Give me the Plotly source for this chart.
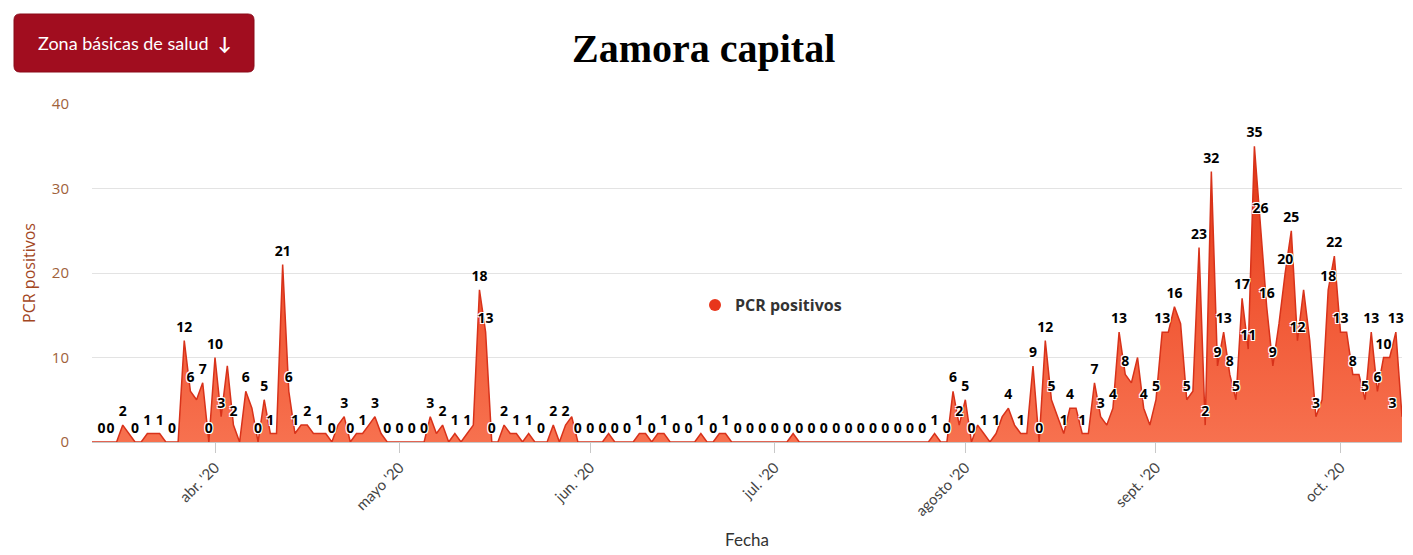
import plotly.graph_objects as go
import pandas as pd

# PCR positivos diarios, Zamora capital (12 mar - 11 oct 2020)
marzo = [0, 0, 0, 0, 0, 2, 1, 0, 0, 1, 1, 1, 0, 0, 0, 12, 6, 5, 7, 0]
abril = [10, 3, 9, 2, 0, 6, 4, 0, 5, 1, 1, 21, 6, 1, 2, 2, 1, 1, 1, 0,
         2, 3, 0, 1, 1, 2, 3, 1, 0, 0]
mayo = [0, 0, 0, 0, 0, 3, 1, 2, 0, 1, 0, 1, 2, 18, 13, 0, 0, 2, 1, 1,
        0, 1, 0, 0, 0, 2, 0, 2, 3, 0, 0]
junio = [0, 0, 0, 1, 0, 0, 0, 0, 1, 1, 0, 1, 1, 0, 0, 0, 0, 0, 1, 0,
         0, 1, 1, 0, 0, 0, 0, 0, 0, 0]
julio = [0, 0, 0, 1, 0, 0, 0, 0, 0, 0, 0, 0, 0, 0, 0, 0, 0, 0, 0, 0,
         0, 0, 0, 0, 0, 0, 1, 0, 0, 6, 2]
agosto = [5, 0, 2, 1, 0, 1, 3, 4, 2, 1, 1, 9, 0, 12, 5, 3, 1, 4, 4, 1,
          1, 7, 3, 2, 4, 13, 8, 7, 10, 4, 2]
septiembre = [5, 13, 13, 16, 14, 5, 6, 23, 2, 32, 9, 13, 8, 5, 17, 11, 35, 26, 16, 9,
              14, 20, 25, 12, 18, 12, 3, 5, 18, 22]
octubre = [13, 13, 8, 8, 5, 13, 6, 10, 10, 13, 3]

meses_ticks = ["2020-04-01", "2020-05-01", "2020-06-01", "2020-07-01",
               "2020-08-01", "2020-09-01", "2020-10-01"]
meses_texto = ["abr. '20", "mayo '20", "jun. '20", "jul. '20",
               "agosto '20", "sept. '20", "oct. '20"]

valores = marzo + abril + mayo + junio + julio + agosto + septiembre + octubre
fechas = pd.date_range("2020-03-12", periods=len(valores), freq="D")

# la pagina deja 8px de margen al cuerpo: se resta para cuadrar con la ventana
borde = 8
W, H = 1413 - borde, 555 - borde
izq, arriba = 92 - borde, 104 - borde
ancho, alto = 1310, 338
der, abajo = W - izq - ancho, H - arriba - alto

# ocultar etiquetas que se solapan (como hace highcharts), ajustando las de los bordes
px_dia = ancho / (len(valores) - 1)
px_unidad = alto / 40
puestas = []
etiquetas = []
posiciones = []
for i, v in enumerate(valores):
    s = str(v)
    w = 9.5 * len(s)
    cx = min(max(i * px_dia, w / 2), ancho - w / 2)
    cy = v * px_unidad
    libre = all(abs(cx - bx) >= (w + bw) / 2 or abs(cy - by) >= 20 for bx, by, bw in puestas)
    if libre:
        puestas.append((cx, cy, w))
        etiquetas.append(s)
    else:
        etiquetas.append("")
    posiciones.append("top right" if i == 0 else "top left" if i == len(valores) - 1 else "top center")


def px_a_paper(x, y):
    # x, y en pixeles de la ventana
    return (x - borde - izq) / ancho, (H - abajo - (y - borde)) / alto


fig = go.Figure()

fig.add_trace(go.Scatter(
    x=fechas, y=valores, mode="lines", name="PCR positivos",
    line=dict(color="#d8321a", width=1.5),
    fill="tozeroy",
    fillgradient=dict(type="vertical", start=0, stop=36,
                      colorscale=[[0, "#f7714f"], [0.5, "#f05532"], [1, "#de3414"]]),
    showlegend=False, hoverinfo="skip"))

fig.add_trace(go.Scatter(
    x=fechas, y=valores, mode="markers+text", text=etiquetas,
    textposition=posiciones,
    marker=dict(size=7, color="rgba(0,0,0,0)"),
    textfont=dict(family="Open Sans", size=14, color="black", weight="bold",
                  shadow="-1px -1px 0 #fff, 1px -1px 0 #fff, -1px 1px 0 #fff, 1px 1px 0 #fff"),
    cliponaxis=False, showlegend=False, hoverinfo="skip"))

# entrada de leyenda
fig.add_trace(go.Scatter(
    x=[None], y=[None], mode="markers", name="PCR positivos",
    marker=dict(size=15, color="#e8351b")))

# boton "Zona basicas de salud"
x0, y0 = px_a_paper(14, 72)
x1, y1 = px_a_paper(254, 14)
rx, ry = 6 / ancho, 6 / alto
camino = (f"M {x0+rx},{y0} L {x1-rx},{y0} Q {x1},{y0} {x1},{y0+ry} "
          f"L {x1},{y1-ry} Q {x1},{y1} {x1-rx},{y1} L {x0+rx},{y1} "
          f"Q {x0},{y1} {x0},{y1-ry} L {x0},{y0+ry} Q {x0},{y0} {x0+rx},{y0} Z")
fig.add_shape(type="path", path=camino, xref="paper", yref="paper",
              fillcolor="#a10d1f", line=dict(color="#8a0a19", width=1))
bx, by = px_a_paper(134, 43)
fig.add_annotation(text="Zona básicas de salud  <b>↓</b>", x=bx, y=by, xref="paper", yref="paper",
                   xanchor="center", yanchor="middle", showarrow=False,
                   font=dict(family="Lato", size=18, color="white"))

tx, ty = px_a_paper(703, 49)
fig.add_annotation(text="<b>Zamora capital</b>", x=tx, y=ty, xref="paper", yref="paper",
                   xanchor="center", yanchor="middle", showarrow=False,
                   font=dict(family="Liberation Serif", size=40, color="black"))

lx, ly = px_a_paper(695, 305)
fig.update_layout(
    width=W, height=H,
    margin=dict(l=izq, r=der, t=arriba, b=abajo, autoexpand=False),
    plot_bgcolor="white", paper_bgcolor="white",
    legend=dict(x=lx, y=ly, xanchor="left", yanchor="middle",
                font=dict(family="Open Sans", size=16, color="#333333", weight="bold"),
                bgcolor="rgba(0,0,0,0)", itemsizing="constant"),
    xaxis=dict(
        range=[fechas[0], fechas[-1]], automargin=False,
        tickvals=meses_ticks, ticktext=meses_texto, tickangle=-45,
        ticks="outside", ticklen=10, tickcolor="#c8c8c8",
        showline=True, linecolor="#c8c8c8", linewidth=1,
        showgrid=False, zeroline=False,
        tickfont=dict(family="Lato", size=15, color="#444444"),
        title=dict(text="Fecha", font=dict(family="Lato", size=17, color="#333333"), standoff=15),
    ),
    yaxis=dict(
        range=[0, 40], dtick=10, automargin=False,
        showgrid=True, gridcolor="#e3e3e3", zeroline=False,
        tickfont=dict(family="Open Sans", size=15, color="#a0623a"),
        ticklabelstandoff=22,
        title=dict(text="PCR positivos", font=dict(family="Open Sans", size=16, color="#a3471f"),
                   standoff=12),
    ),
)

fig.write_html("out.html")
